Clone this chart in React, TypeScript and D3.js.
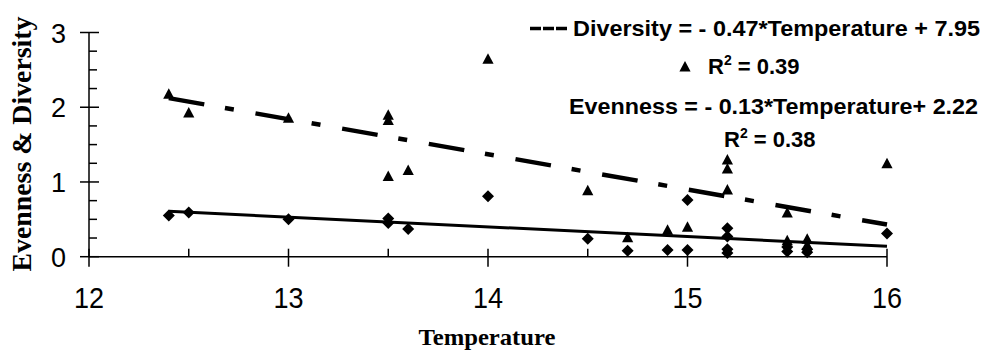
import React from 'react';
import * as d3 from 'd3';

// diversity points (triangles)
const diversityTemp = [12.4, 12.5, 13.0, 13.5, 13.5, 13.5, 13.6, 14.0, 14.5, 14.7, 14.9, 15.0, 15.2, 15.2, 15.2, 15.5, 15.5, 15.6, 15.6, 16.0];
const diversityValue = [2.18, 1.93, 1.86, 1.9, 1.83, 1.08, 1.16, 2.65, 0.89, 0.26, 0.36, 0.4, 1.3, 1.18, 0.9, 0.59, 0.22, 0.24, 0.16, 1.25];

// evenness points (diamonds)
const evennessTemp = [12.4, 12.5, 13.0, 13.5, 13.5, 13.6, 14.0, 14.5, 14.7, 14.9, 15.0, 15.0, 15.2, 15.2, 15.2, 15.2, 15.5, 15.5, 15.6, 15.6, 16.0];
const evennessValue = [0.55, 0.59, 0.5, 0.51, 0.45, 0.37, 0.81, 0.24, 0.08, 0.09, 0.76, 0.09, 0.38, 0.27, 0.1, 0.05, 0.13, 0.07, 0.1, 0.06, 0.31];

// linear fits from the legend
const diversityFit = [-0.47, 7.95];
const evennessFit = [-0.13, 2.22];
const fitRange = [12.4, 16];

const xMajor = [12, 13, 14, 15, 16];
const xMinor = [12.5, 13.5, 14.5, 15.5];
const yMajor = [0, 1, 2, 3];
const yMinor = [0.25, 0.5, 0.75, 1.25, 1.5, 1.75, 2.25, 2.5, 2.75];

const W = 982;
const H = 352;

const sans = "'Liberation Sans', Arial, sans-serif";
const serif = "'Liberation Serif', 'Times New Roman', serif";

const triangle = 'M0,-5.5L5.6,5L-5.6,5Z';
const diamond = 'M0,-6L6,0L0,6L-6,0Z';

const App: React.FC = () => {
    const x = d3.scaleLinear().domain([12, 16]).range([89, 887]);
    const y = d3.scaleLinear().domain([0, 3]).range([256.7, 32.5]);

    const fitPath = (fit: number[]) => d3.line<number>()
        .x((t) => x(t))
        .y((t) => y(fit[0] * t + fit[1]))(fitRange) || '';

    return (
        <div style={{ position: 'fixed', left: 0, top: 0 }}>
            <svg width={W} height={H} style={{ display: 'block', background: '#fff' }}>
                {/* axes */}
                <line x1={x(12)} x2={x(16)} y1={y(0)} y2={y(0)} stroke="#000" strokeWidth={1.5} />
                <line x1={x(12)} x2={x(12)} y1={y(0)} y2={y(3)} stroke="#000" strokeWidth={1.5} />
                {xMajor.map((t) => (
                    <line key={'xM' + t} x1={x(t)} x2={x(t)} y1={y(0) - 8} y2={y(0) + 10} stroke="#000" strokeWidth={1.5} />
                ))}
                {xMinor.map((t) => (
                    <line key={'xm' + t} x1={x(t)} x2={x(t)} y1={y(0) - 8} y2={y(0)} stroke="#000" strokeWidth={1.5} />
                ))}
                {yMajor.map((v) => (
                    <line key={'yM' + v} x1={x(12) - 9} x2={x(12) + 10} y1={y(v)} y2={y(v)} stroke="#000" strokeWidth={1.5} />
                ))}
                {yMinor.map((v) => (
                    <line key={'ym' + v} x1={x(12)} x2={x(12) + 8} y1={y(v)} y2={y(v)} stroke="#000" strokeWidth={1.5} />
                ))}
                {xMajor.map((t) => (
                    <text key={'xl' + t} transform={`translate(${x(t)},308) scale(1,1.1)`} textAnchor="middle" fontFamily={sans} fontSize={27}>{t}</text>
                ))}
                {yMajor.map((v) => (
                    <text key={'yl' + v} transform={`translate(66,${y(v) + 10}) scale(1,1.05)`} textAnchor="end" fontFamily={sans} fontSize={27}>{v}</text>
                ))}
                <text x={487} y={345} textAnchor="middle" fontFamily={serif} fontWeight="bold" fontSize={23} textLength={137} lengthAdjust="spacingAndGlyphs">Temperature</text>
                <text transform="translate(31,144) rotate(-90)" textAnchor="middle" fontFamily={serif} fontWeight="bold" fontSize={28} textLength={255} lengthAdjust="spacingAndGlyphs">Evenness &amp; Diversity</text>

                {/* trend lines */}
                <path d={fitPath(evennessFit)} fill="none" stroke="#000" strokeWidth={3} />
                <path d={fitPath(diversityFit)} fill="none" stroke="#000" strokeWidth={4.5} strokeDasharray="36,21,9,22" />

                {/* points */}
                {evennessTemp.map((t, i) => (
                    <path key={'e' + i} d={diamond} transform={`translate(${x(t)},${y(evennessValue[i])})`} fill="#000" />
                ))}
                {diversityTemp.map((t, i) => (
                    <path key={'d' + i} d={triangle} transform={`translate(${x(t)},${y(diversityValue[i])})`} fill="#000" />
                ))}

                {/* legend / equations */}
                <line x1={530} x2={567} y1={28.5} y2={28.5} stroke="#000" strokeWidth={3.5} strokeDasharray="11,2" />
                <text x={573} y={36} fontFamily={sans} fontWeight="bold" fontSize={22} textLength={407} lengthAdjust="spacingAndGlyphs">Diversity = - 0.47*Temperature + 7.95</text>
                <path d={triangle} transform="translate(685,66.5)" fill="#000" />
                <text x={708} y={73.5} fontFamily={sans} fontWeight="bold" fontSize={22}>
                    R<tspan fontSize={14} dy={-9}>2</tspan><tspan dy={9}> = 0.39</tspan>
                </text>
                <text x={569} y={113.5} fontFamily={sans} fontWeight="bold" fontSize={22} textLength={409} lengthAdjust="spacingAndGlyphs">Evenness = - 0.13*Temperature+ 2.22</text>
                <text x={724} y={147} fontFamily={sans} fontWeight="bold" fontSize={22}>
                    R<tspan fontSize={14} dy={-9}>2</tspan><tspan dy={9}> = 0.38</tspan>
                </text>
            </svg>
        </div>
    );
};

export default App;
